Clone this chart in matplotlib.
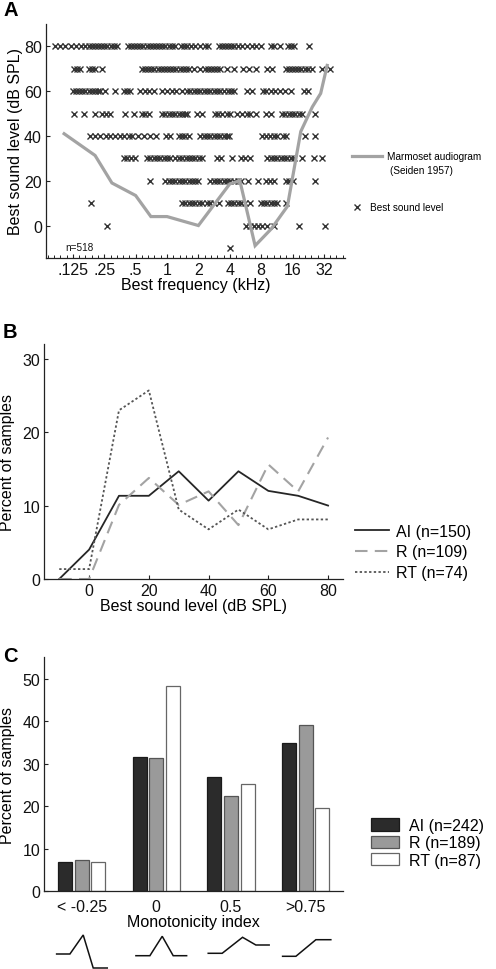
import numpy as np
import matplotlib
matplotlib.use('Agg')
import matplotlib.pyplot as plt
from matplotlib.lines import Line2D

plt.rcParams['font.family'] = ['Liberation Sans', 'DejaVu Sans']

# ---------------- Panel A data ----------------
# best frequencies, in octaves re 1 kHz, for each best sound level row
bf_oct_80 = [-3.56, -3.4, -3.25, -3.05, -2.9, -2.75, -2.6, -2.5, -2.4, -2.3, -2.2, -2.1, -2.0,
             -1.9, -1.8, -1.7, -1.6, -1.25, -1.15, -1.05, -0.95, -0.85, -0.75, -0.65, -0.55,
             -0.45, -0.35, -0.25, -0.15, -0.05, 0.05, 0.15, 0.25, 0.45, 0.55, 0.65, 0.75, 0.9,
             1.05, 1.2, 1.3, 1.65, 1.75, 1.85, 1.95, 2.05, 2.15, 2.25, 2.4, 2.55, 2.7, 2.85,
             3.0, 3.3, 3.4, 3.6, 3.85, 3.95, 4.05, 4.52]
bf_oct_70 = [-2.98, -2.87, -2.77, -2.5, -2.4, -2.28, -2.07, -0.8, -0.7, -0.6, -0.5, -0.4, -0.3,
             -0.2, -0.1, 0.0, 0.1, 0.2, 0.3, 0.4, 0.5, 0.6, 0.7, 0.85, 1.06, 1.2, 1.3, 1.4,
             1.5, 1.6, 1.7, 1.91, 2.13, 2.43, 2.6, 2.82, 3.2, 3.35, 3.78, 3.88, 3.98, 4.08,
             4.18, 4.28, 4.4, 4.5, 4.63, 4.95, 5.2]
bf_oct_60 = [-3.0, -2.9, -2.8, -2.7, -2.6, -2.5, -2.4, -2.3, -2.2, -2.13, -1.97, -1.67, -1.38,
             -1.28, -1.17, -0.85, -0.69, -0.56, -0.43, -0.16, 0.0, 0.16, 0.3, 0.48, 0.64, 0.74,
             0.85, 0.95, 1.06, 1.17, 1.28, 1.38, 1.5, 1.6, 1.7, 1.8, 1.95, 2.05, 2.15, 2.55,
             2.7, 3.05, 3.15, 3.3, 3.45, 3.6, 3.75, 3.95, 4.35, 4.5]
bf_oct_50 = [-2.96, -2.66, -2.31, -2.07, -1.94, -1.81, -1.35, -1.06, -0.8, -0.69, -0.59, -0.16,
             -0.06, 0.05, 0.15, 0.26, 0.37, 0.48, 0.58, 0.64, 0.96, 1.12, 1.54, 1.64, 1.75,
             1.9, 2.02, 2.23, 2.38, 2.55, 2.66, 2.82, 3.14, 3.3, 3.67, 3.77, 3.88, 3.98, 4.09,
             4.2, 4.31, 4.73]
bf_oct_40 = [-2.45, -2.31, -2.15, -1.94, -1.81, -1.65, -1.51, -1.38, -1.22, -1.12, -0.94, -0.72,
             -0.55, -0.35, -0.03, 0.1, 0.37, 0.48, 0.58, 0.69, 1.06, 1.17, 1.28, 1.38, 1.49,
             1.6, 1.7, 1.81, 1.91, 1.97, 3.03, 3.15, 3.28, 3.4, 3.51, 3.69, 3.78, 4.41, 4.71]
bf_oct_30 = [-1.38, -1.28, -1.15, -1.01, -0.64, -0.53, -0.43, -0.32, -0.21, -0.11, 0.0, 0.1,
             0.27, 0.37, 0.48, 0.59, 0.69, 0.8, 0.9, 1.01, 1.12, 1.6, 1.72, 2.07, 2.36, 2.5,
             2.66, 3.19, 3.3, 3.4, 3.51, 3.62, 3.72, 3.83, 3.94, 4.04, 4.31, 4.7, 4.95]
bf_oct_20 = [-0.53, -0.05, 0.05, 0.15, 0.26, 0.37, 0.48, 0.58, 0.69, 0.8, 0.9, 1.0, 1.38, 1.49,
             1.6, 1.7, 1.81, 1.91, 2.02, 2.13, 2.25, 2.36, 2.57, 2.89, 3.16, 3.28, 3.4, 3.8,
             3.9, 4.01, 4.73]
bf_oct_10 = [-2.43, 0.48, 0.58, 0.69, 0.8, 0.9, 1.01, 1.12, 1.26, 1.38, 1.49, 1.65, 1.94, 2.04,
             2.15, 2.25, 2.36, 2.47, 2.66, 2.98, 3.09, 3.19, 3.3, 3.4, 3.51, 3.78]
bf_oct_0 = [-1.91, 2.52, 2.65, 2.78, 2.91, 3.04, 3.19, 3.4, 4.2, 5.05]
bf_oct_m10 = [2.02]
bsl_levels = [80, 70, 60, 50, 40, 30, 20, 10, 0, -10]

audiogram_khz = [0.103, 0.204, 0.296, 0.5, 0.7, 1.0, 2.0, 4.0, 5.0, 7.0, 10.0, 14.3, 19.2, 24.8, 29.8, 34.4]
audiogram_db = [41, 31.3, 19, 13.4, 4, 4, 0, 18.6, 20, -9, -1.5, 8.6, 42, 53, 59, 71.5]

freq_ticks = [0.125, 0.25, 0.5, 1, 2, 4, 8, 16, 32]
freq_labels = ['.125', '.25', '.5', '1', '2', '4', '8', '16', '32']

# ---------------- Panel B data ----------------
spl_bins = [-10, 0, 10, 20, 30, 40, 50, 60, 70, 80]
pct_AI = [0, 4.0, 11.33, 11.33, 14.67, 10.67, 14.67, 12.0, 11.33, 10.0]
pct_R = [0, 0, 10.09, 13.76, 10.09, 11.93, 7.34, 15.6, 11.93, 19.27]
pct_RT = [1.35, 1.35, 22.97, 25.68, 9.46, 6.76, 9.46, 6.76, 8.11, 8.11]

# ---------------- Panel C data ----------------
mono_cats = ['< -0.25', '0', '0.5', '>0.75']
mono_AI = [7.0, 31.5, 26.9, 34.8]
mono_R = [7.4, 31.3, 22.3, 39.2]
mono_RT = [6.9, 48.3, 25.3, 19.6]

# schematic rate-level icons under each category: (x offset from category, height)
icon_x = [[-0.335, -0.157, 0.021, 0.155, 0.343],
          [-0.273, -0.086, 0.079, 0.226, 0.406],
          [-0.305, -0.118, 0.155, 0.333, 0.511],
          [-0.309, -0.131, 0.137, 0.337]]
icon_y = [[15, 15, 34, 1, 1],
          [13.3, 13.3, 32.7, 13.3, 13.3],
          [15.7, 15.7, 31.7, 24, 24],
          [12.7, 12.7, 29.3, 29.3]]

W, H = 496, 970
fig = plt.figure(figsize=(W / 100, H / 100), dpi=100)

def fx(px):
    return px / W

def fy(px):
    return 1 - px / H

FS = 11.5
axis_col = '#222222'

def style(ax):
    for s in ['top', 'right']:
        ax.spines[s].set_visible(False)
    for s in ['left', 'bottom']:
        ax.spines[s].set_color(axis_col)
        ax.spines[s].set_linewidth(0.9)
    ax.tick_params(direction='in', length=3, width=0.8, colors=axis_col,
                   labelsize=FS, labelcolor='#111111', pad=3)

# ---------------- Panel A ----------------
axA = fig.add_axes([fx(46), fy(259), fx(345) - fx(46), fy(25) - fy(259)])
style(axA)
rows = [bf_oct_80, bf_oct_70, bf_oct_60, bf_oct_50, bf_oct_40, bf_oct_30, bf_oct_20,
        bf_oct_10, bf_oct_0, bf_oct_m10]
for lvl, octs in zip(bsl_levels, rows):
    f = 2.0 ** np.array(octs)
    axA.plot(f, np.full(len(f), lvl), 'x', color='#333333', ms=3.8, mew=1.0, zorder=3)
axA.plot(audiogram_khz, audiogram_db, color='#a3a3a3', lw=2.3, zorder=4, solid_joinstyle='miter')
axA.set_xscale('log', base=2)
axA.set_xlim(0.069, 51)
axA.set_ylim(-14.5, 90)
axA.set_xticks(freq_ticks)
axA.set_xticklabels(freq_labels)
axA.set_xticks(2.0 ** np.arange(-3.8, 5.7, 0.2), minor=True)
axA.set_xticklabels([], minor=True)
axA.tick_params(axis='x', which='minor', direction='in', length=2, width=0.7, colors=axis_col)
axA.set_yticks([0, 20, 40, 60, 80])
axA.set_xlabel('Best frequency (kHz)', fontsize=FS, labelpad=0)
axA.set_ylabel('Best sound level (dB SPL)', fontsize=FS, labelpad=1)
axA.text(fx(65), fy(248), 'n=518', transform=fig.transFigure, fontsize=7.2,
         va='center', ha='left', color='#111111')

# legend A (manual)
fig.add_artist(Line2D([fx(352), fx(382)], [fy(157), fy(157)], color='#a3a3a3', lw=2.3))
fig.text(fx(387), fy(157), 'Marmoset audiogram', fontsize=7.2, va='center', ha='left')
fig.text(fx(390), fy(171), '(Seiden 1957)', fontsize=7.2, va='center', ha='left')
fig.add_artist(Line2D([fx(357)], [fy(208)], marker='x', color='#333333', ms=3.8, mew=1.0, ls='none'))
fig.text(fx(370), fy(208), 'Best sound level', fontsize=7.2, va='center', ha='left')

# ---------------- Panel B ----------------
axB = fig.add_axes([fx(44.3), fy(580), fx(343) - fx(44.3), fy(345) - fy(580)])
style(axB)
axB.plot(spl_bins, pct_AI, color='#262626', lw=1.3, label='AI (n=150)')
axB.plot(spl_bins, pct_R, color='#a3a3a3', lw=1.5, dashes=(6, 3.5), label='R (n=109)')
axB.plot(spl_bins, pct_RT, color='#555555', lw=1.3, dashes=(1.3, 1.3), label='RT (n=74)')
axB.set_xlim(-15, 85)
axB.set_ylim(0, 32)
axB.set_xticks([0, 20, 40, 60, 80])
axB.set_yticks([0, 10, 20, 30])
axB.set_xlabel('Best sound level (dB SPL)', fontsize=FS, labelpad=0)
axB.set_ylabel('Percent of samples', fontsize=FS, labelpad=5)
axB.legend(loc='center left', bbox_to_anchor=(fx(355), fy(553)), bbox_transform=fig.transFigure,
           frameon=False, fontsize=FS, handlelength=2.1, handletextpad=0.45,
           labelspacing=0.35, borderaxespad=0, borderpad=0)

# ---------------- Panel C ----------------
axC = fig.add_axes([fx(44.3), fy(892.3), fx(343) - fx(44.3), fy(658.3) - fy(892.3)])
style(axC)
xc = np.arange(len(mono_cats))
bw = 0.187
off = 0.223
axC.bar(xc - off, mono_AI, bw, color='#2b2b2b', edgecolor='#1a1a1a', lw=0.9, label='AI (n=242)')
axC.bar(xc, mono_R, bw, color='#9a9a9a', edgecolor='#555555', lw=0.9, label='R (n=189)')
axC.bar(xc + off, mono_RT, bw, color='white', edgecolor='#666666', lw=0.9, label='RT (n=87)')
axC.set_xlim(-0.5, 3.5)
axC.set_ylim(0, 55)
axC.set_xticks(xc)
axC.set_xticklabels(mono_cats)
axC.tick_params(axis='x', length=0, pad=5.5)
axC.set_yticks([0, 10, 20, 30, 40, 50])
axC.set_xlabel('Monotonicity index', fontsize=FS, labelpad=0)
axC.set_ylabel('Percent of samples', fontsize=FS, labelpad=5)
axC.legend(loc='center left', bbox_to_anchor=(fx(371), fy(844)), bbox_transform=fig.transFigure,
           frameon=False, fontsize=FS, handlelength=1.75, handleheight=0.8, handletextpad=0.6,
           labelspacing=0.15, borderaxespad=0, borderpad=0)

# icons
axI = fig.add_axes([fx(44.3), 0, fx(343) - fx(44.3), fy(932)])
axI.set_xlim(-0.5, 3.5)
axI.set_ylim(0, 38)
axI.axis('off')
for i, (ix, iy) in enumerate(zip(icon_x, icon_y)):
    axI.plot(np.array(ix) + i, iy, color='#111111', lw=1.1, solid_joinstyle='miter')

# panel letters
for letter, ypx in [('A', 11), ('B', 333), ('C', 656)]:
    fig.text(fx(3), fy(ypx), letter, fontsize=14.5, fontweight='bold', va='center', ha='left')

fig.savefig('out.png', dpi=100)
